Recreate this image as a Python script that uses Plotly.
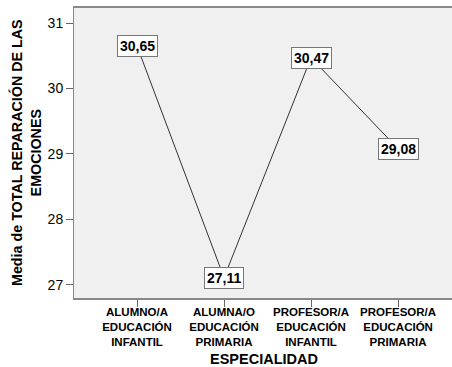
import plotly.graph_objects as go

categories = ["ALUMNO/A<br>EDUCACIÓN<br>INFANTIL", "ALUMNA/O<br>EDUCACIÓN<br>PRIMARIA",
              "PROFESOR/A<br>EDUCACIÓN<br>INFANTIL", "PROFESOR/A<br>EDUCACIÓN<br>PRIMARIA"]
means = [30.65, 27.11, 30.47, 29.08]
value_labels = ["30,65", "27,11", "30,47", "29,08"]
y_ticks = [27, 28, 29, 30, 31]

xs = list(range(len(categories)))

fig = go.Figure()
fig.add_trace(go.Scatter(x=xs, y=means, mode="lines",
                         line=dict(color="#333333", width=1), hoverinfo="skip"))

annotations = []
for x, y, t in zip(xs, means, value_labels):
    annotations.append(dict(x=x, y=y, xref="x", yref="y", text="<b>" + t + "</b>",
                            showarrow=False, bgcolor="white", bordercolor="#777777",
                            borderwidth=1, borderpad=2,
                            xanchor="center", yanchor="middle",
                            font=dict(family="Liberation Sans, Arial", size=14, color="black")))
annotations.append(dict(x=(26 - 74) / 378, y=0.5, xref="paper", yref="paper",
                        xanchor="center", yanchor="middle",
                        text="<b>Media de TOTAL REPARACIÓN DE LAS<br>EMOCIONES</b>",
                        textangle=-90, showarrow=False,
                        font=dict(family="Liberation Sans, Arial", size=14.3, color="black")))
annotations.append(dict(x=(264 - 74) / 378, y=(298 - 359) / 290, xref="paper", yref="paper",
                        xanchor="center", yanchor="middle",
                        text="<b>ESPECIALIDAD</b>", showarrow=False,
                        font=dict(family="Liberation Sans, Arial", size=14.5, color="black")))

fig.update_layout(
    width=452, height=367,
    margin=dict(l=74, r=0, t=8, b=69, autoexpand=False),
    paper_bgcolor="white", plot_bgcolor="#F0F0F0",
    showlegend=False,
    annotations=annotations,
    font=dict(family="Liberation Sans, Arial", color="black"),
)
fig.update_xaxes(
    range=[-0.724, 3.62], tickvals=xs, ticktext=["<b>" + c + "</b>" for c in categories],
    tickangle=0, automargin=False,
    tickfont=dict(size=11.5, color="black"),
    ticks="outside", ticklen=2, tickcolor="#666666",
    minor=dict(tickvals=xs, ticks="outside", ticklen=7, tickcolor="#666666"),
    showline=True, linecolor="#888888", linewidth=2, mirror=True,
    showgrid=False, zeroline=False,
)
fig.update_yaxes(
    range=[26.80, 31.23], tickvals=y_ticks, ticktext=[str(v) for v in y_ticks],
    automargin=False,
    tickfont=dict(size=14, color="black"),
    ticks="outside", ticklen=7, tickcolor="#666666",
    showline=True, linecolor="#888888", linewidth=1,
    showgrid=False, zeroline=False,
)

fig.write_html("out.html", config={"displayModeBar": False},
               post_script="document.body.style.margin='0px';")
